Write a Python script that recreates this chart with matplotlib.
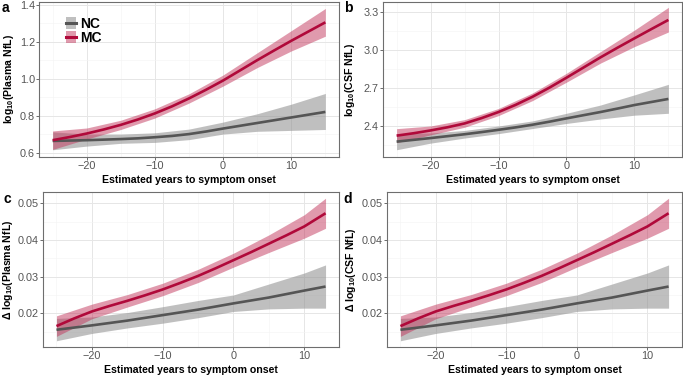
import numpy as np
import matplotlib
matplotlib.use('Agg')
import matplotlib.pyplot as plt
from matplotlib.patches import Patch
from matplotlib.lines import Line2D

plt.rcParams['font.family'] = ['Liberation Sans', 'DejaVu Sans']
plt.rcParams['mathtext.default'] = 'regular'

# ---- data ----
# bands (5-year steps)
yrs_ab = [-25, -20, -15, -10, -5, 0, 5, 10, 15]
yrs_cd = [-25, -20, -15, -10, -5, 0, 5, 10, 13]
# fitted lines (2.5-year steps)
yrs_ab_line = [-25, -22.5, -20, -17.5, -15, -12.5, -10, -7.5, -5, -2.5, 0, 2.5, 5, 7.5, 10, 12.5, 15]
yrs_cd_line = [-25, -22.5, -20, -17.5, -15, -12.5, -10, -7.5, -5, -2.5, 0, 2.5, 5, 7.5, 10, 11.5, 13]

# a: log10(Plasma NfL)
a_mc = [0.667, 0.684, 0.703, 0.725, 0.750, 0.779, 0.812, 0.850, 0.893, 0.940, 0.990,
        1.045, 1.100, 1.153, 1.205, 1.255, 1.305]
a_mc_lo = [0.617, 0.673, 0.725, 0.787, 0.868, 0.960, 1.060, 1.150, 1.230]
a_mc_hi = [0.717, 0.733, 0.775, 0.837, 0.918, 1.020, 1.140, 1.260, 1.380]
a_nc = [0.663, 0.665, 0.667, 0.670, 0.673, 0.677, 0.683, 0.690, 0.700, 0.714, 0.730,
        0.745, 0.760, 0.775, 0.790, 0.805, 0.820]
a_nc_lo = [0.615, 0.635, 0.650, 0.655, 0.670, 0.700, 0.715, 0.720, 0.725]
a_nc_hi = [0.712, 0.700, 0.700, 0.707, 0.727, 0.765, 0.810, 0.862, 0.920]

# b: log10(CSF NfL)
b_mc = [2.324, 2.343, 2.365, 2.390, 2.420, 2.462, 2.510, 2.566, 2.630, 2.702, 2.780,
        2.860, 2.940, 3.016, 3.090, 3.163, 3.235]
b_mc_lo = [2.269, 2.330, 2.390, 2.482, 2.600, 2.745, 2.895, 3.025, 3.140]
b_mc_hi = [2.379, 2.400, 2.450, 2.538, 2.660, 2.815, 2.985, 3.155, 3.334]
b_nc = [2.277, 2.291, 2.305, 2.320, 2.335, 2.352, 2.370, 2.389, 2.410, 2.434, 2.460,
        2.485, 2.510, 2.537, 2.565, 2.589, 2.613]
b_nc_lo = [2.213, 2.265, 2.305, 2.340, 2.380, 2.420, 2.455, 2.485, 2.500]
b_nc_hi = [2.340, 2.345, 2.365, 2.400, 2.440, 2.500, 2.565, 2.645, 2.728]

# c/d: delta log10 NfL
c_mc = [0.0165, 0.0186, 0.0205, 0.0220, 0.0234, 0.0249, 0.0265, 0.0283, 0.0302, 0.0323,
        0.0345, 0.0367, 0.0390, 0.0413, 0.0437, 0.0455, 0.0473]
c_mc_lo = [0.0137, 0.0185, 0.0217, 0.0248, 0.0284, 0.0326, 0.0366, 0.0405, 0.0432]
c_mc_hi = [0.0193, 0.0225, 0.0251, 0.0282, 0.0320, 0.0364, 0.0414, 0.0469, 0.0514]
c_nc = [0.0155, 0.0161, 0.0167, 0.01735, 0.0180, 0.01875, 0.0195, 0.02025, 0.0210, 0.02185,
        0.0227, 0.0235, 0.0243, 0.02525, 0.0262, 0.02675, 0.0273]
c_nc_lo = [0.0125, 0.0145, 0.0160, 0.0173, 0.0188, 0.0205, 0.0212, 0.0214, 0.0214]
c_nc_hi = [0.0186, 0.0190, 0.0202, 0.0218, 0.0235, 0.0250, 0.0280, 0.0310, 0.0332]

mc_col = '#B0093A'
mc_fill = '#C2365C'
nc_col = '#555555'
nc_fill = '#8C8C8C'

W, H = 683, 377
fig = plt.figure(figsize=(W / 100, H / 100), dpi=100)

def make_ax(l, r, t, b):
    return fig.add_axes([l / W, 1 - b / H, (r - l) / W, (b - t) / H])

panels = [
    dict(box=(39, 339, 2, 157), x=yrs_ab, xl=yrs_ab_line, mc=(a_mc, a_mc_lo, a_mc_hi), nc=(a_nc, a_nc_lo, a_nc_hi),
         ylim=(0.576, 1.415), yt=[0.6, 0.8, 1.0, 1.2, 1.4], ym=[0.7, 0.9, 1.1, 1.3], fmt='%.1f',
         xlim=(-27, 17), xm=[-25, -15, -5, 5, 15],
         ylabel='log$_{10}$(Plasma NfL)', lx=-0.077, letter='a', lpos=(2, 8)),
    dict(box=(383, 682, 2, 157), x=yrs_ab, xl=yrs_ab_line, mc=(b_mc, b_mc_lo, b_mc_hi), nc=(b_nc, b_nc_lo, b_nc_hi),
         ylim=(2.156, 3.376), yt=[2.4, 2.7, 3.0, 3.3], ym=[2.25, 2.55, 2.85, 3.15], fmt='%.1f',
         xlim=(-27, 17), xm=[-25, -15, -5, 5, 15],
         ylabel='log$_{10}$(CSF NfL)', lx=-0.087, letter='b', lpos=(344, 8)),
    dict(box=(43, 339, 192, 347), x=yrs_cd, xl=yrs_cd_line, mc=(c_mc, c_mc_lo, c_mc_hi), nc=(c_nc, c_nc_lo, c_nc_hi),
         ylim=(0.0108, 0.0531), yt=[0.02, 0.03, 0.04, 0.05], ym=[0.015, 0.025, 0.035, 0.045], fmt='%.2f',
         xlim=(-26.9, 14.9), xm=[-25, -15, -5, 5],
         ylabel='Δ log$_{10}$(Plasma NfL)', lx=-0.095, letter='c', lpos=(3, 199)),
    dict(box=(387, 682, 192, 347), x=yrs_cd, xl=yrs_cd_line, mc=(c_mc, c_mc_lo, c_mc_hi), nc=(c_nc, c_nc_lo, c_nc_hi),
         ylim=(0.0108, 0.0531), yt=[0.02, 0.03, 0.04, 0.05], ym=[0.015, 0.025, 0.035, 0.045], fmt='%.2f',
         xlim=(-26.9, 14.9), xm=[-25, -15, -5, 5],
         ylabel='Δ log$_{10}$(CSF NfL)', lx=-0.10, letter='d', lpos=(343, 199)),
]

axes = []
for p in panels:
    ax = make_ax(*p['box'])
    axes.append(ax)
    x = p['x']
    ax.fill_between(x, p['nc'][1], p['nc'][2], color=nc_fill, alpha=0.55, lw=0)
    ax.fill_between(x, p['mc'][1], p['mc'][2], color=mc_fill, alpha=0.5, lw=0)
    ax.plot(p['xl'], p['nc'][0], color=nc_col, lw=1.9, solid_capstyle='butt')
    ax.plot(p['xl'], p['mc'][0], color=mc_col, lw=1.9, solid_capstyle='butt')
    ax.set_xlim(*p['xlim'])
    ax.set_ylim(*p['ylim'])
    ax.set_xticks([-20, -10, 0, 10])
    ax.set_xticklabels(['\u221220', '\u221210', '0', '10'])
    ax.set_xticks(p['xm'], minor=True)
    ax.set_yticks(p['yt'])
    ax.set_yticklabels([p['fmt'] % v for v in p['yt']])
    ax.set_yticks(p['ym'], minor=True)
    ax.grid(True, which='major', color='#E6E6E6', lw=0.7)
    ax.grid(True, which='minor', color='#F3F3F3', lw=0.4)
    ax.set_axisbelow(True)
    ax.tick_params(which='major', length=2, width=0.6, color='#555555',
                   labelsize=7.8, labelcolor='#555555', pad=1)
    ax.tick_params(which='minor', length=0)
    for s in ax.spines.values():
        s.set_color('#6E6E6E')
        s.set_linewidth(0.8)
    ax.set_xlabel('Estimated years to symptom onset', fontsize=7.6, fontweight='bold', labelpad=3)
    ax.set_ylabel(p['ylabel'], fontsize=7.6, fontweight='bold')
    ax.yaxis.set_label_coords(p['lx'], 0.5)
    fig.text(p['lpos'][0] / W, 1 - p['lpos'][1] / H, p['letter'], fontsize=10,
             fontweight='bold', va='center', ha='left')

h_nc = (Patch(facecolor=nc_fill, alpha=0.55, lw=0), Line2D([], [], color=nc_col, lw=2.2))
h_mc = (Patch(facecolor=mc_fill, alpha=0.5, lw=0), Line2D([], [], color=mc_col, lw=2.2))
leg = axes[0].legend([h_nc, h_mc], ['NC', 'MC'], loc='upper left',
                     bbox_to_anchor=((66 - 39) / 300, 1 - 15 / 155), frameon=False,
                     handlelength=0.7, handleheight=0.9, handletextpad=0.3,
                     labelspacing=0.0, borderpad=0, borderaxespad=0,
                     prop={'size': 10, 'weight': 'bold'})

fig.savefig('out.png', dpi=100)
